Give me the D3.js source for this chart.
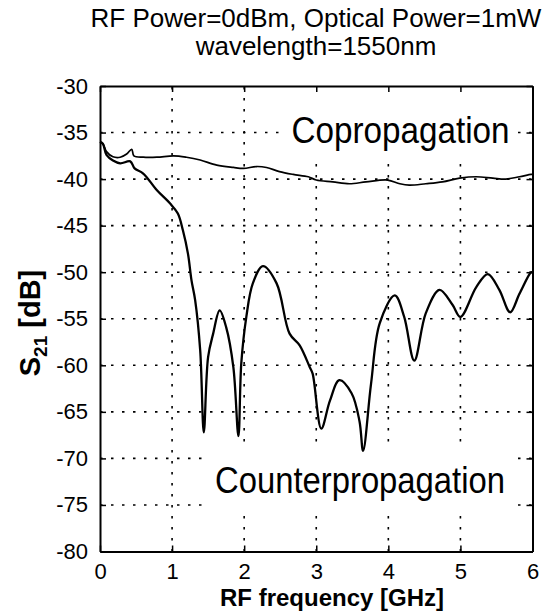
<!DOCTYPE html>
<html>
<head>
<meta charset="utf-8">
<script src="https://cdn.jsdelivr.net/npm/d3@7"></script>
<style>
    body { margin: 0; background: #fff; }
    svg { display: block; font-family: 'Liberation Sans', Arial, sans-serif; }
</style>
</head>
<body>
<div id="chart"></div>
<script>
const WIDTH = 551
const HEIGHT = 612
const MARGIN = { top: 86, right: 18.5, bottom: 60.5, left: 100 }

const TICK_SIZE = 6
const GRID_DASH = '2.5,8.5'

// Chart values
const titleLines = ['RF Power=0dBm, Optical Power=1mW', 'wavelength=1550nm']
const xTicks = [0, 1, 2, 3, 4, 5, 6]
const yTicks = [-80, -75, -70, -65, -60, -55, -50, -45, -40, -35, -30]

const coFreq = [0.0, 0.04, 0.09, 0.18, 0.28, 0.37, 0.44, 0.47, 0.6, 0.79, 1.02, 1.2, 1.39, 1.62, 1.85,
    1.99, 2.17, 2.31, 2.49, 2.68, 2.89, 3.0, 3.23, 3.46, 3.69, 3.99, 4.16, 4.29, 4.52, 4.75,
    4.99, 5.22, 5.45, 5.63, 5.82, 5.98, 6.0]
const coS21 = [-36.0, -36.2, -37.05, -37.6, -37.65, -37.3, -36.8, -37.5, -37.65, -37.65, -37.5, -37.65, -37.95, -38.5, -38.75,
    -38.85, -38.65, -38.75, -39.2, -39.5, -39.75, -40.1, -40.3, -40.5, -40.3, -40.1, -40.5, -40.65, -40.5, -40.3,
    -39.9, -39.75, -39.9, -40.0, -39.75, -39.5, -39.5]

const counterFreq = [0.0, 0.04, 0.09, 0.18, 0.28, 0.42, 0.48, 0.6, 0.79, 0.97, 1.08,
    1.15, 1.22, 1.27, 1.32, 1.39, 1.44, 1.5, 1.57, 1.66, 1.75,
    1.85, 1.92, 1.96, 2.03, 2.12, 2.26, 2.45, 2.63, 2.77, 2.91,
    2.95, 3.07, 3.19, 3.32, 3.49, 3.6, 3.65, 3.76, 3.88, 4.09,
    4.22, 4.36, 4.52, 4.71, 4.89, 5.0, 5.22, 5.38, 5.54, 5.69,
    5.82, 5.98, 6.0]
const counterS21 = [-36.0, -36.2, -37.4, -38.0, -38.3, -38.1, -38.85, -39.4, -41.2, -42.6, -43.7,
    -45.5, -48.0, -50.9, -53.0, -58.4, -67.2, -59.1, -56.6, -54.1, -55.9,
    -60.2, -67.6, -59.8, -54.8, -51.2, -49.35, -51.2, -56.6, -57.85, -60.2,
    -60.9, -66.8, -63.8, -61.6, -63.0, -66.0, -69.2, -62.0, -55.5, -52.5,
    -54.8, -59.5, -54.4, -51.9, -53.5, -54.8, -51.6, -50.2, -51.9, -54.3,
    -52.3, -50.0, -50.0]

const svg = d3.select('#chart')
    .append('svg')
    .attr('width', WIDTH)
    .attr('height', HEIGHT)

const x = d3.scaleLinear().domain([0, 6]).range([MARGIN.left, WIDTH - MARGIN.right])
const y = d3.scaleLinear().domain([-80, -30]).range([HEIGHT - MARGIN.bottom, MARGIN.top])

const [x0, x1] = x.range()
const [y0, y1] = y.range()

// Dotted grid (MATLAB style ':')
const grid = svg.append('g')
    .attr('stroke', '#000')
    .attr('stroke-width', 1.6)
    .attr('stroke-dasharray', GRID_DASH)
grid.selectAll('.gx')
    .data(xTicks.slice(1, -1))
    .enter()
    .append('line')
    .attr('x1', d => x(d)).attr('x2', d => x(d))
    .attr('y1', y0).attr('y2', y1)
grid.selectAll('.gy')
    .data(yTicks.slice(1, -1))
    .enter()
    .append('line')
    .attr('x1', x0).attr('x2', x1)
    .attr('y1', d => y(d)).attr('y2', d => y(d))

// The text labels sit on white boxes that hide the grid
svg.append('rect')
    .attr('x', 282).attr('y', y1)
    .attr('width', 233).attr('height', 72)
    .attr('fill', '#fff')
svg.append('rect')
    .attr('x', 205).attr('y', 450)
    .attr('width', 308).attr('height', 62)
    .attr('fill', '#fff')

// Traces
const line = d3.line()
    .x(d => x(d[0]))
    .y(d => y(d[1]))
    .curve(d3.curveCatmullRom.alpha(0.5))

svg.append('path')
    .attr('d', line(d3.zip(coFreq, coS21)))
    .attr('fill', 'none')
    .attr('stroke', '#000')
    .attr('stroke-width', 1.7)
    .attr('stroke-linejoin', 'round')

svg.append('path')
    .attr('d', line(d3.zip(counterFreq, counterS21)))
    .attr('fill', 'none')
    .attr('stroke', '#000')
    .attr('stroke-width', 2.3)
    .attr('stroke-linejoin', 'round')

// Frame with inward ticks on all four sides
const fmt = d => String(d)
const axes = svg.append('g')
axes.append('g')
    .attr('transform', `translate(0,${y0})`)
    .call(d3.axisBottom(x).tickValues(xTicks).tickFormat(fmt).tickSizeInner(-TICK_SIZE).tickSizeOuter(0).tickPadding(12))
axes.append('g')
    .attr('transform', `translate(0,${y1})`)
    .call(d3.axisTop(x).tickValues(xTicks).tickSizeInner(-TICK_SIZE).tickSizeOuter(0).tickFormat(''))
axes.append('g')
    .attr('transform', `translate(${x0},0)`)
    .call(d3.axisLeft(y).tickValues(yTicks).tickFormat(fmt).tickSizeInner(-TICK_SIZE).tickSizeOuter(0).tickPadding(12))
axes.append('g')
    .attr('transform', `translate(${x1},0)`)
    .call(d3.axisRight(y).tickValues(yTicks).tickSizeInner(-TICK_SIZE).tickSizeOuter(0).tickFormat(''))

axes.selectAll('.domain').attr('stroke', '#000').attr('stroke-width', 2)
axes.selectAll('.tick line').attr('stroke', '#000').attr('stroke-width', 1.5)
axes.selectAll('.tick text')
    .attr('fill', '#000')
    .attr('font-size', 22)
    .attr('font-family', "'Liberation Sans', Arial, sans-serif")

// Title
svg.append('g')
    .selectAll('text')
    .data(titleLines)
    .enter()
    .append('text')
    .attr('x', 316)
    .attr('y', (d, i) => 27 + i * 28)
    .attr('text-anchor', 'middle')
    .attr('font-size', 26)
    .text(d => d)

// Axis labels
svg.append('text')
    .attr('x', 332)
    .attr('y', 606)
    .attr('text-anchor', 'middle')
    .attr('font-size', 24)
    .attr('font-weight', 'bold')
    .text('RF frequency [GHz]')

const yLabel = svg.append('text')
    .attr('transform', 'translate(40,323) rotate(-90)')
    .attr('text-anchor', 'middle')
    .attr('font-size', 29)
    .attr('font-weight', 'bold')
yLabel.append('tspan').text('S')
yLabel.append('tspan').attr('font-size', 19).attr('dy', 7).text('21')
yLabel.append('tspan').attr('dy', -7).text(' [dB]')

// Trace labels
svg.append('text')
    .attr('x', 291.5)
    .attr('y', 142.5)
    .attr('font-size', 37)
    .attr('textLength', 218)
    .attr('lengthAdjust', 'spacingAndGlyphs')
    .text('Copropagation')

svg.append('text')
    .attr('x', 215)
    .attr('y', 493)
    .attr('font-size', 37)
    .attr('textLength', 290)
    .attr('lengthAdjust', 'spacingAndGlyphs')
    .text('Counterpropagation')
</script>
</body>
</html>
